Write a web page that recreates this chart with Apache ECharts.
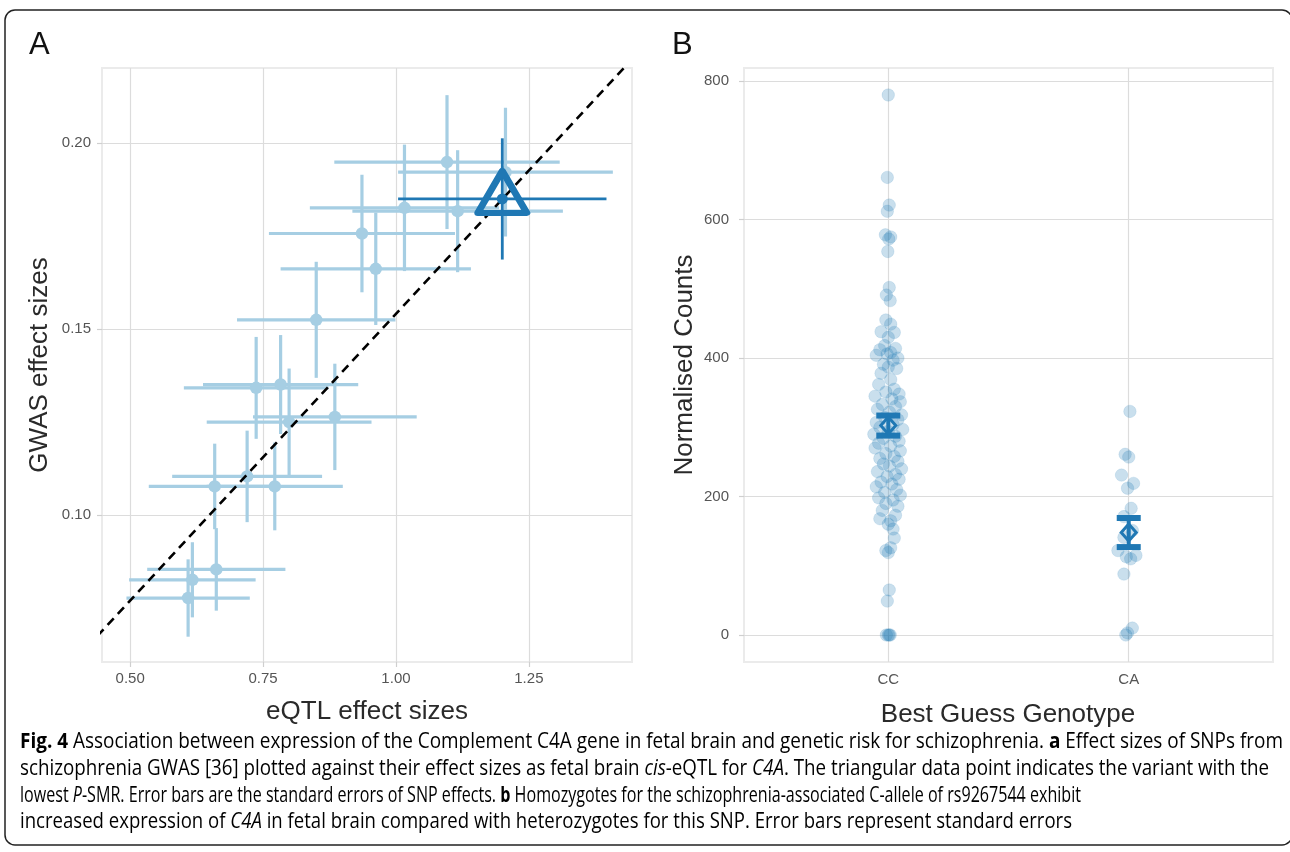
<!DOCTYPE html>
<html><head><meta charset="utf-8">
<script src="https://cdn.jsdelivr.net/npm/echarts@6/dist/echarts.min.js"></script>
<style>html,body{margin:0;padding:0;background:#fff}#c{width:1290px;height:852px}</style>
</head><body><div id="c"></div>
<script>
// ---------- Panel A: SMR effect sizes ----------
const eqtlBeta = [1.096, 1.206, 1.016, 1.116, 0.936, 0.962, 0.850, 0.737, 0.783, 0.799, 0.885, 0.720, 0.659, 0.772, 0.662, 0.617, 0.609];
const eqtlSE   = [0.212, 0.202, 0.178, 0.198, 0.175, 0.179, 0.149, 0.136, 0.146, 0.155, 0.154, 0.141, 0.124, 0.128, 0.130, 0.119, 0.116];
const gwasBeta = [0.1949, 0.1922, 0.1826, 0.1817, 0.1757, 0.1662, 0.1525, 0.1342, 0.1351, 0.1250, 0.1264, 0.1104, 0.1077, 0.1077, 0.0854, 0.0826, 0.0777];
const gwasSE   = [0.0180, 0.0173, 0.0170, 0.0164, 0.0158, 0.0151, 0.0156, 0.0137, 0.0133, 0.0144, 0.0143, 0.0123, 0.0115, 0.0118, 0.0111, 0.0101, 0.0104];
const topEqtl = [1.200], topEqtlSE = [0.196], topGwas = [0.1850], topGwasSE = [0.0163];
const ablineX = [0.40, 1.50];
const ablineY = [0.0616, 0.2312];
const aXTicks = [0.50, 0.75, 1.00, 1.25];
const aYTicks = [0.10, 0.15, 0.20];

// ---------- Panel B: C4A expression by genotype ----------
const genotypes = ['CC', 'CA'];
const ccCounts = [780, 661, 621, 612, 578, 575, 572, 554, 502, 491, 483, 455, 449, 438, 437, 430, 418, 414, 412, 408, 406, 404, 400, 397, 391, 387, 385, 378, 369, 362, 355, 351, 348, 345, 341, 337, 333, 330, 326, 322, 318, 314, 311, 307, 304, 300, 297, 294, 290, 287, 284, 280, 277, 273, 270, 266, 262, 258, 255, 251, 247, 244, 240, 236, 232, 229, 225, 221, 218, 214, 210, 206, 202, 198, 195, 190, 186, 180, 173, 168, 165, 160, 153, 140, 126, 122, 119, 65, 49, 0, 0, 0, 0];
const ccJitter = [0.000, -0.004, 0.004, -0.004, -0.012, 0.010, 0.002, -0.002, 0.004, -0.008, 0.008, -0.010, 0.010, -0.030, 0.025, 0.000, -0.015, 0.030, -0.035, 0.010, -0.005, -0.050, 0.040, 0.020, -0.020, 0.000, 0.035, -0.030, 0.010, -0.040, 0.025, -0.010, 0.045, -0.055, 0.015, 0.050, -0.025, 0.030, -0.045, 0.005, 0.055, -0.015, 0.040, -0.050, 0.020, -0.035, 0.060, 0.000, -0.060, 0.030, -0.020, 0.045, -0.040, 0.010, -0.055, 0.050, -0.010, 0.025, -0.035, 0.040, -0.020, 0.005, 0.055, -0.045, 0.030, -0.005, 0.045, -0.030, 0.015, -0.050, 0.035, -0.015, 0.050, -0.040, 0.020, -0.010, 0.040, -0.025, 0.030, -0.035, 0.010, 0.000, 0.020, 0.025, 0.010, -0.010, 0.000, 0.004, -0.004, -0.008, 0.000, 0.008, 0.004];
const caCounts = [323, 261, 257, 231, 219, 212, 183, 171, 151, 141, 122, 115, 113, 110, 88, 10, 3, 0];
const caJitter = [0.005, -0.015, 0.000, -0.030, 0.020, -0.005, 0.010, -0.020, 0.015, -0.020, -0.045, 0.030, -0.010, 0.008, -0.020, 0.015, -0.005, -0.012];
const genoMean = [302.5, 148];
const genoSE = [14.5, 21];
const bYTicks = [0, 200, 400, 600, 800];

// ---------- styles ----------
const LIGHT = '#a6cee3', DARK = '#1f78b4';
const FONT = "'Liberation Sans', Arial, sans-serif";
const CAPFONT = "'Open Sans', 'Liberation Sans', sans-serif";
const CAPSIZE = 21;

function valueAxis(gridIndex, min, max, ticks, fmt, margin) {
  return {
    type: 'value', gridIndex: gridIndex, min: min, max: max,
    axisLine: { show: false },
    axisTick: { show: true, length: 5, customValues: ticks, lineStyle: { color: '#cfcfcf', width: 1.2 } },
    axisLabel: { customValues: ticks, formatter: fmt, color: '#555', fontSize: 15, fontFamily: FONT, margin: margin },
    splitLine: { show: true, lineStyle: { color: '#dcdcdc', width: 1.2 } }
  };
}

const errA = function (color, width) {
  return function (params, api) {
    const x = api.value(0), y = api.value(1), sx = api.value(2), sy = api.value(3);
    const l = api.coord([x - sx, y]), r = api.coord([x + sx, y]);
    const t = api.coord([x, y + sy]), b = api.coord([x, y - sy]);
    return { type: 'group', children: [
      { type: 'line', shape: { x1: l[0], y1: l[1], x2: r[0], y2: r[1] }, style: { stroke: color, lineWidth: width } },
      { type: 'line', shape: { x1: t[0], y1: t[1], x2: b[0], y2: b[1] }, style: { stroke: color, lineWidth: width } }
    ] };
  };
};

const lightErr = eqtlBeta.map((x, i) => [x, gwasBeta[i], eqtlSE[i], gwasSE[i]]);
const lightPts = eqtlBeta.map((x, i) => [x, gwasBeta[i]]);
const darkErr = topEqtl.map((x, i) => [x, topGwas[i], topEqtlSE[i], topGwasSE[i]]);
const darkPts = topEqtl.map((x, i) => [x, topGwas[i]]);
const ccPts = ccCounts.map((v, i) => [1 + ccJitter[i], v]);
const caPts = caCounts.map((v, i) => [2 + caJitter[i], v]);
const meanData = genoMean.map((m, i) => [i + 1, m, genoSE[i]]);

const option = {
  animation: false,
  backgroundColor: '#fff',
  grid: [
    { left: 102, top: 68, width: 530, height: 594, show: true, borderColor: '#ebebeb', borderWidth: 2, backgroundColor: '#fff' },
    { left: 744, top: 68, width: 529, height: 594, show: true, borderColor: '#ebebeb', borderWidth: 2, backgroundColor: '#fff' }
  ],
  xAxis: [
    valueAxis(0, 0.447, 1.444, aXTicks, v => v.toFixed(2), 9),
    valueAxis(1, 0.4, 2.6, [1, 2], v => genotypes[Math.round(v) - 1], 10)
  ],
  yAxis: [
    valueAxis(0, 0.0605, 0.2202, aYTicks, v => v.toFixed(2), 11),
    valueAxis(1, -39, 819, bYTicks, v => String(v), 15)
  ],
  series: [
    { type: 'custom', xAxisIndex: 0, yAxisIndex: 0, data: lightErr, renderItem: errA(LIGHT, 3.2), z: 2 },
    { type: 'scatter', xAxisIndex: 0, yAxisIndex: 0, data: lightPts, symbol: 'circle', symbolSize: 12.5, itemStyle: { color: LIGHT, opacity: 1 }, z: 3 },
    { type: 'line', xAxisIndex: 0, yAxisIndex: 0, data: ablineX.map((x, i) => [x, ablineY[i]]), symbol: 'none', clip: true,
      lineStyle: { color: '#000', width: 2.6, type: [9, 6] }, z: 4 },
    { type: 'custom', xAxisIndex: 0, yAxisIndex: 0, data: darkErr, renderItem: errA(DARK, 2.8), z: 5 },
    { type: 'scatter', xAxisIndex: 0, yAxisIndex: 0, data: darkPts, symbol: 'circle', symbolSize: 11, itemStyle: { color: DARK, opacity: 1 }, z: 6 },
    { type: 'scatter', xAxisIndex: 0, yAxisIndex: 0, data: darkPts, symbol: 'triangle', symbolSize: [49, 42], symbolOffset: [0, -7],
      itemStyle: { color: 'rgba(0,0,0,0)', borderColor: DARK, borderWidth: 6.5, borderJoin: 'round', opacity: 1 }, z: 7 },

    { type: 'scatter', xAxisIndex: 1, yAxisIndex: 1, data: ccPts, symbol: 'circle', symbolSize: 12.5,
      itemStyle: { color: 'rgba(31,120,180,0.24)', borderColor: 'rgba(31,120,180,0.12)', borderWidth: 1, opacity: 1 }, z: 3 },
    { type: 'scatter', xAxisIndex: 1, yAxisIndex: 1, data: caPts, symbol: 'circle', symbolSize: 12.5,
      itemStyle: { color: 'rgba(31,120,180,0.24)', borderColor: 'rgba(31,120,180,0.12)', borderWidth: 1, opacity: 1 }, z: 3 },
    { type: 'custom', xAxisIndex: 1, yAxisIndex: 1, data: meanData, z: 5,
      renderItem: function (params, api) {
        const x = api.value(0), m = api.value(1), se = api.value(2);
        const t = api.coord([x, m + se]), b = api.coord([x, m - se]), c = api.coord([x, m]);
        const hw = 12;
        return { type: 'group', children: [
          { type: 'line', shape: { x1: t[0], y1: t[1], x2: b[0], y2: b[1] }, style: { stroke: DARK, lineWidth: 4 } },
          { type: 'line', shape: { x1: t[0] - hw, y1: t[1], x2: t[0] + hw, y2: t[1] }, style: { stroke: DARK, lineWidth: 6 } },
          { type: 'line', shape: { x1: b[0] - hw, y1: b[1], x2: b[0] + hw, y2: b[1] }, style: { stroke: DARK, lineWidth: 6 } },
          { type: 'polygon', shape: { points: [[c[0], c[1] - 8.5], [c[0] + 7.5, c[1]], [c[0], c[1] + 8.5], [c[0] - 7.5, c[1]]] },
            style: { fill: 'none', stroke: DARK, lineWidth: 3 } }
        ] };
      } }
  ],
  graphic: [
    { type: 'rect', z: -10, shape: { x: 5, y: 10, width: 1287, height: 835, r: 10 }, style: { fill: 'none', stroke: '#222', lineWidth: 1.5 } },
    { type: 'text', x: 29, y: 45, style: { text: 'A', font: "31px " + FONT, fill: '#111', verticalAlign: 'middle' } },
    { type: 'text', x: 672, y: 45, style: { text: 'B', font: "31px " + FONT, fill: '#111', verticalAlign: 'middle' } },
    { type: 'text', x: 40, y: 365, rotation: Math.PI / 2, style: { text: 'GWAS effect sizes', font: "26px " + FONT, fill: '#2a2a2a', align: 'center', verticalAlign: 'middle' } },
    { type: 'text', x: 367, y: 712, style: { text: 'eQTL effect sizes', font: "26px " + FONT, fill: '#2a2a2a', align: 'center', verticalAlign: 'middle' } },
    { type: 'text', x: 685, y: 365, rotation: Math.PI / 2, style: { text: 'Normalised Counts', font: "26px " + FONT, fill: '#2a2a2a', align: 'center', verticalAlign: 'middle' } },
    { type: 'text', x: 1008, y: 715, style: { text: 'Best Guess Genotype', font: "26px " + FONT, fill: '#2a2a2a', align: 'center', verticalAlign: 'middle' } }
  ]
};

const capRich = {
  n: { fontFamily: CAPFONT, fontSize: CAPSIZE, color: '#231f20' },
  b: { fontFamily: CAPFONT, fontSize: CAPSIZE, fontWeight: 'bold', color: '#231f20' },
  i: { fontFamily: CAPFONT, fontSize: CAPSIZE, fontStyle: 'italic', color: '#231f20' },
  l: { fontFamily: CAPFONT, fontSize: CAPSIZE, color: '#2a2ae0' }
};
const capLines = [
  '{b|Fig. 4}{n| Association between expression of the Complement C4A gene in fetal brain and genetic risk for schizophrenia. }{b|a}{n| Effect sizes of SNPs from}',
  '{n|schizophrenia GWAS [}{l|36}{n|] plotted against their effect sizes as fetal brain }{i|cis}{n|-eQTL for }{i|C4A}{n|. The triangular data point indicates the variant with the}',
  '{n|lowest }{i|P}{n|-SMR. Error bars are the standard errors of SNP effects. }{b|b}{n| Homozygotes for the schizophrenia-associated C-allele of rs9267544 exhibit}',
  '{n|increased expression of }{i|C4A}{n| in fetal brain compared with heterozygotes for this SNP. Error bars represent standard errors}'
];
const capY = [742, 769, 796, 822];
const capWidth = [1263, 1249, 1061, 1052];   // printed width of each caption line in the figure
// the figure uses a condensed caption face: fit each line to its printed width
const mctx = document.createElement('canvas').getContext('2d');
function lineWidth(s) {
  let w = 0; const re = /\{(\w)\|([^}]*)\}/g; let m;
  while ((m = re.exec(s))) {
    const k = m[1];
    mctx.font = (k === 'i' ? 'italic ' : '') + (k === 'b' ? 'bold ' : '') + CAPSIZE + 'px ' + CAPFONT;
    w += mctx.measureText(m[2]).width;
  }
  return w;
}
capLines.forEach((t, i) => {
  const sx = capWidth[i] / lineWidth(t);
  option.graphic.push({ type: 'text', x: 20, y: capY[i], scaleX: sx, style: { text: t, rich: capRich, verticalAlign: 'middle', fontFamily: CAPFONT, fontSize: CAPSIZE } });
});

const chart = echarts.init(document.getElementById('c'));
chart.setOption(option);
</script></body></html>
